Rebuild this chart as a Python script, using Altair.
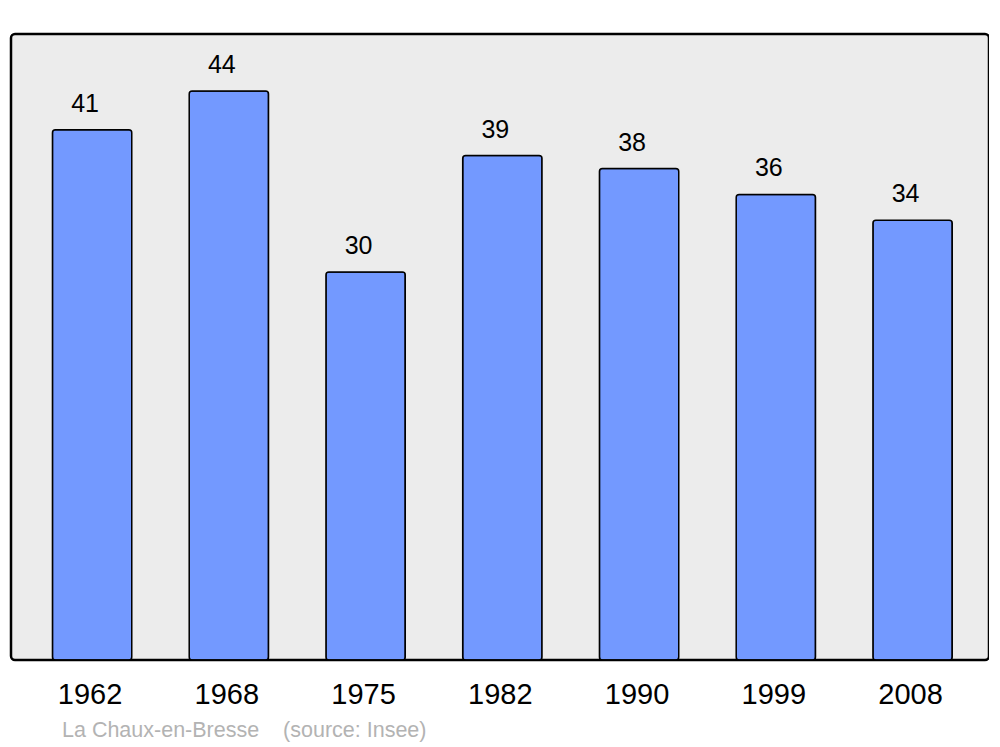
import altair as alt
import pandas as pd

years = ["1962", "1968", "1975", "1982", "1990", "1999", "2008"]
population = [41, 44, 30, 39, 38, 36, 34]
source_text = "La Chaux-en-Bresse\u00a0\u00a0\u00a0\u00a0(source: Insee)"

df = pd.DataFrame({"year": years, "pop": population})

x = alt.X("year:N", sort=years,
          scale=alt.Scale(paddingInner=0.42, paddingOuter=0.286, align=0.53),
          axis=alt.Axis(title=None, labelAngle=0, labelFontSize=29, labelFont="Liberation Sans",
                        labelColor="#000000", ticks=False, domain=False, labelPadding=20,
                        labelOffset=-2))
y = alt.Y("pop:Q", scale=alt.Scale(domain=[0, 48.4], nice=False, zero=True), axis=None)

bars = alt.Chart(df).mark_bar(
    color="#7399ff", stroke="#000000", strokeWidth=1.5, cornerRadius=3
).encode(x=x, y=y)

labels = alt.Chart(df).mark_text(
    baseline="alphabetic", dy=-18, dx=-7, fontSize=25, font="Liberation Sans", color="#000000"
).encode(x=x, y=y, text="pop:Q")

chart = alt.layer(bars, labels).properties(
    width=978, height=626,
    background="#ffffff",
    padding={"left": 3, "top": 26, "right": 0, "bottom": 0},
    title=alt.TitleParams(text=source_text, orient="bottom", anchor="start", dx=51, offset=11,
                          fontSize=21.5, font="Liberation Sans", fontWeight="normal", color="#b3b3b3"),
).configure_view(
    fill="#ececec", stroke="#000000", strokeWidth=2.5, cornerRadius=4
)

chart.save("out.html", embed_options={"renderer": "svg", "actions": False})
